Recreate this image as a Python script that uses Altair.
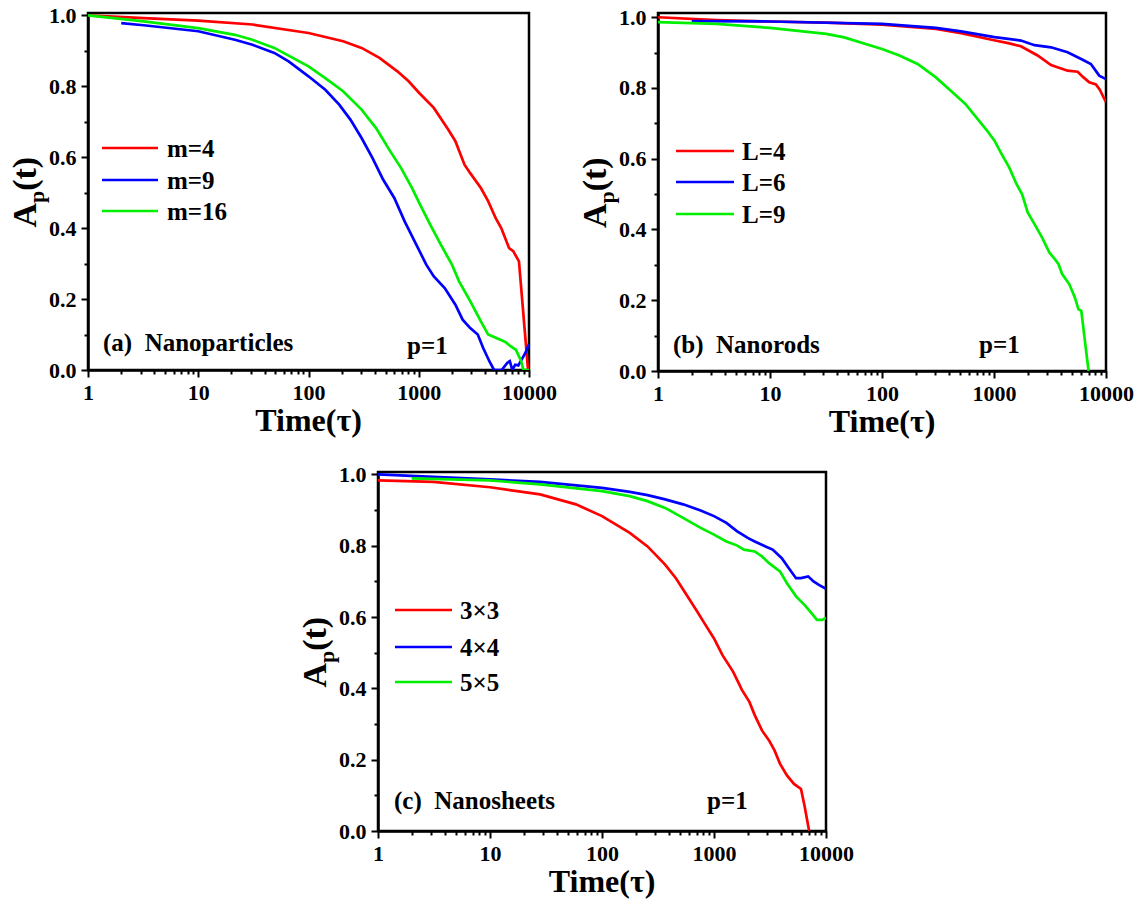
import altair as alt
import pandas as pd

FONT = "Liberation Serif"
COLORS = ["#ff0000", "#0000ff", "#00ee00"]

# ---------------- (a) Nanoparticles ----------------
a_names = ["m=4", "m=9", "m=16"]
a_t_m4 = [1, 3.2, 10, 31, 100, 206, 303, 440, 640, 810, 1010, 1370, 1850, 2150,
          2600, 2930, 3660, 4260, 4990, 5600, 6590, 7200, 8110, 9800]
a_v_m4 = [1.0, 0.992, 0.985, 0.974, 0.950, 0.927, 0.908, 0.880, 0.842, 0.814, 0.781,
          0.739, 0.678, 0.645, 0.579, 0.555, 0.513, 0.476, 0.428, 0.400, 0.344,
          0.335, 0.306, 0.0]
a_t_m9 = [2, 3.2, 10, 21.5, 31, 49, 66, 100, 142, 190, 240, 303, 380, 475, 600, 745,
          935, 1170, 1370, 1720, 2150, 2500, 2930, 3430, 3840, 4380, 4820, 5650,
          6350, 6700, 7060, 7500, 8000, 8600, 9340, 10000]
a_v_m9 = [0.978, 0.972, 0.955, 0.931, 0.917, 0.894, 0.870, 0.828, 0.790, 0.748,
          0.706, 0.654, 0.598, 0.537, 0.485, 0.419, 0.358, 0.297, 0.264, 0.231,
          0.184, 0.142, 0.118, 0.100, 0.062, 0.024, 0.0, 0.0, 0.020, 0.025, 0.0,
          0.015, 0.013, 0.030, 0.050, 0.073]
a_t_m16 = [1, 3.2, 10, 21.5, 31, 49, 100, 142, 206, 303, 410, 550, 690, 870, 1010,
           1270, 1590, 2000, 2320, 2930, 3660, 4260, 4820, 5500, 6100, 6800, 7600,
           8500, 8900, 10000]
a_v_m16 = [1.0, 0.983, 0.964, 0.945, 0.931, 0.908, 0.856, 0.823, 0.786, 0.734,
           0.682, 0.617, 0.570, 0.513, 0.471, 0.410, 0.353, 0.297, 0.250, 0.194,
           0.137, 0.100, 0.093, 0.085, 0.079, 0.067, 0.057, 0.025, 0.0, 0.0]

# ---------------- (b) Nanorods ----------------
b_names = ["L=4", "L=6", "L=9"]
b_t_l4 = [1, 3.33, 10, 31.8, 100, 303, 508, 1000, 1370, 1740, 2450, 3230, 4540,
          5580, 6300, 7080, 8130, 8800, 10000]
b_v_l4 = [1.0, 0.992, 0.988, 0.985, 0.979, 0.967, 0.955, 0.935, 0.926, 0.918,
          0.892, 0.865, 0.849, 0.846, 0.830, 0.816, 0.810, 0.795, 0.760]
b_t_l6 = [2, 10, 100, 303, 508, 1010, 1740, 2300, 3230, 4540, 6000, 7330, 8700,
          10000]
b_v_l6 = [0.989, 0.988, 0.981, 0.970, 0.960, 0.944, 0.934, 0.921, 0.915, 0.901,
          0.882, 0.868, 0.835, 0.825]
b_t_l9 = [1, 3.33, 10, 31.8, 46, 100, 143, 208, 303, 443, 555, 695, 870, 1010,
          1170, 1370, 1590, 1780, 2000, 2300, 2690, 3120, 3500, 3770, 4060, 4710,
          5270, 5670, 6020, 6480, 6990]
b_v_l9 = [0.986, 0.981, 0.970, 0.953, 0.943, 0.910, 0.892, 0.868, 0.830, 0.783,
          0.755, 0.717, 0.679, 0.651, 0.613, 0.575, 0.528, 0.500, 0.448, 0.415,
          0.377, 0.335, 0.316, 0.302, 0.274, 0.245, 0.208, 0.175, 0.170, 0.085,
          0.0]

# ---------------- (c) Nanosheets ----------------
c_names = ["3×3", "4×4", "5×5"]
c_t_3 = [1, 3.12, 10, 28, 58.5, 100, 177, 255, 366, 457, 570, 710, 820, 1000,
         1190, 1480, 1780, 2070, 2310, 2680, 3100, 3470, 3880, 4480, 5180, 5980,
         6430, 7070]
c_v_3 = [0.983, 0.979, 0.964, 0.944, 0.916, 0.883, 0.836, 0.798, 0.747, 0.709,
         0.662, 0.615, 0.583, 0.540, 0.493, 0.447, 0.395, 0.362, 0.325, 0.282,
         0.254, 0.226, 0.189, 0.156, 0.132, 0.118, 0.071, 0.0]
c_t_4 = [1, 3.12, 10, 28, 100, 177, 255, 366, 530, 760, 1000, 1290, 1600, 2000,
         2310, 2880, 3340, 4030, 4660, 5400, 5980, 6930, 7740, 8640, 10000]
c_v_4 = [1.0, 0.993, 0.986, 0.979, 0.962, 0.951, 0.942, 0.930, 0.916, 0.899, 0.883,
         0.864, 0.841, 0.822, 0.812, 0.798, 0.789, 0.765, 0.737, 0.709, 0.709,
         0.714, 0.700, 0.690, 0.679]
c_t_5 = [2, 10, 28, 100, 177, 255, 366, 530, 760, 1000, 1290, 1600, 1850, 2310,
         2680, 3100, 3880, 4480, 5400, 6430, 7420, 8300, 9270, 10000]
c_v_5 = [0.989, 0.983, 0.972, 0.953, 0.939, 0.925, 0.906, 0.878, 0.850, 0.831,
         0.812, 0.801, 0.789, 0.784, 0.770, 0.751, 0.728, 0.695, 0.658, 0.634,
         0.611, 0.592, 0.592, 0.598]

# tick positions
X_TICKS = [m * 10 ** d for d in range(4) for m in range(1, 10)] + [10000]
Y_TICKS = [i / 10 for i in range(11)]
X_MAJOR = "indexof([1, 10, 100, 1000, 10000], datum.value) >= 0"
Y_MAJOR = "round(datum.value * 10) % 2 == 0"

ONE = pd.DataFrame({"k": [0]})


def text(s, x, y, size, angle=0, align="left", baseline="alphabetic"):
    return alt.Chart(ONE).mark_text(
        text=s, font=FONT, fontWeight="bold", fontSize=size, angle=angle,
        align=align, baseline=baseline, color="black"
    ).encode(x=alt.value(x), y=alt.value(y))


def panel(names, ts, vs, W, H, ymax, leg, tag, ppos):
    rows = []
    for name, tt, vv in zip(names, ts, vs):
        for t, v in zip(tt, vv):
            rows.append({"series": name, "t": t, "v": v})
    df = pd.DataFrame(rows)

    x_axis = alt.Axis(
        values=X_TICKS, title=None, labelFlush=False, labelOverlap=False,
        labelExpr=f"{X_MAJOR} ? format(datum.value, 'd') : ''",
        tickSize={"condition": {"test": X_MAJOR, "value": 7}, "value": 4},
        labelPadding=5, grid=False,
    )
    y_axis = alt.Axis(
        values=Y_TICKS, title=None, labelFlush=False, labelOverlap=False,
        labelExpr=f"{Y_MAJOR} ? format(datum.value, '.1f') : ''",
        tickSize={"condition": {"test": Y_MAJOR, "value": 7}, "value": 4},
        labelPadding=5, grid=False,
    )
    lines = alt.Chart(df).mark_line(strokeWidth=2.7, clip=True).encode(
        x=alt.X("t:Q", scale=alt.Scale(type="log", domain=[1, 10000], nice=False),
                axis=x_axis),
        y=alt.Y("v:Q", scale=alt.Scale(domain=[0, ymax], nice=False, zero=False),
                axis=y_axis),
        color=alt.Color("series:N", scale=alt.Scale(domain=names, range=COLORS),
                        legend=None),
    )
    layers = [lines]

    # legend: coloured strokes with labels
    lx0, lx1, ltx, lys = leg
    for i, name in enumerate(names):
        layers.append(
            alt.Chart(ONE).mark_rule(strokeWidth=2.7, color=COLORS[i]).encode(
                x=alt.value(lx0), x2=alt.value(lx1), y=alt.value(lys[i]))
        )
        layers.append(text(name, ltx, lys[i] + 9, 25))

    # panel label and p value
    tag_s, tx, ty = tag
    layers.append(text(tag_s, tx, ty, 25))
    layers.append(text("p=1", ppos[0], ppos[1], 25))

    # y title A_p(t) with subscript, x title Time(τ)
    layers.append(text("A", -52, H / 2 + 36, 34, angle=270))
    layers.append(text("p", -44, H / 2 + 11.5, 22, angle=270))
    layers.append(text("(t)", -52, H / 2 - 0.7, 34, angle=270))
    layers.append(text("Time(τ)", W / 2, H + 61, 32, align="center"))

    return alt.layer(*layers).properties(width=W, height=H)


pa = panel(a_names, [a_t_m4, a_t_m9, a_t_m16], [a_v_m4, a_v_m9, a_v_m16],
           441, 357, 1.0065,
           (14, 70, 79, [135, 167, 198]),
           ("(a)\u00a0\u00a0Nanoparticles", 15, 357 - 19), (319, 357 - 16))
pb = panel(b_names, [b_t_l4, b_t_l6, b_t_l9], [b_v_l4, b_v_l6, b_v_l9],
           448, 358, 1.012,
           (18, 76, 84, [138, 169, 201]),
           ("(b)\u00a0\u00a0Nanorods", 15, 358 - 18), (321, 358 - 18))
pc = panel(c_names, [c_t_3, c_t_4, c_t_5], [c_v_3, c_v_4, c_v_5],
           448, 359, 1.0067,
           (17, 74, 82, [138, 175, 210]),
           ("(c)\u00a0\u00a0Nanosheets", 16, 359 - 22), (329, 359 - 22))

# blank cell that pushes panel (c) towards the middle of the lower row
spacer = alt.Chart(ONE).mark_point(opacity=0).encode(
    x=alt.value(0), y=alt.value(0)
).properties(width=209, height=10, view=alt.ViewBackground(strokeOpacity=0))

top = alt.hconcat(pa, pb, spacing=19)
bottom = alt.hconcat(spacer, pc, spacing=0)

chart = alt.vconcat(top, bottom, spacing=22).properties(
    padding={"left": 7, "top": 3, "right": 5, "bottom": 5},
    background="white",
).configure_view(
    stroke="black", strokeWidth=2.5
).configure_axis(
    grid=False, labelFont=FONT, labelFontWeight="bold", labelFontSize=22,
    labelColor="black", domainColor="black", domainWidth=2.5,
    tickColor="black", tickWidth=2,
)

chart.save("out.html", embed_options={"renderer": "svg", "actions": False})
